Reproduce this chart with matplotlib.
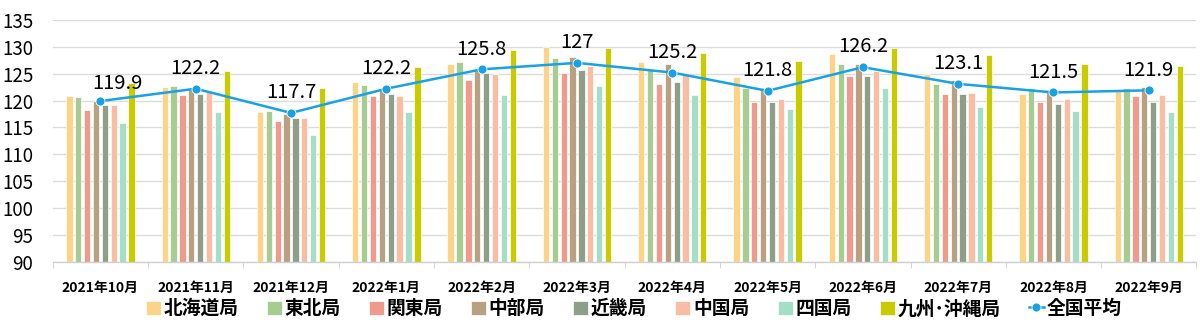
import matplotlib
matplotlib.use('Agg')
import matplotlib.pyplot as plt
import numpy as np

plt.rcParams['font.family'] = ['Noto Sans CJK JP', 'DejaVu Sans']

months = ['2021年10月', '2021年11月', '2021年12月', '2022年1月', '2022年2月', '2022年3月',
          '2022年4月', '2022年5月', '2022年6月', '2022年7月', '2022年8月', '2022年9月']

hokkaido = [120.8, 122.6, 117.8, 123.5, 126.7, 130.0, 127.1, 124.3, 128.6, 125.0, 121.3, 122.0]
tohoku = [120.6, 122.7, 118.1, 122.8, 127.1, 127.9, 125.7, 122.3, 126.8, 123.1, 122.3, 122.3]
kanto = [118.3, 121.0, 116.2, 120.8, 123.9, 125.1, 123.0, 119.8, 124.6, 121.3, 119.7, 120.8]
chubu = [120.0, 122.3, 117.5, 121.9, 125.6, 128.1, 126.8, 122.3, 126.8, 123.9, 122.0, 122.5]
kinki = [119.2, 121.2, 116.7, 121.3, 125.1, 125.6, 123.5, 119.8, 124.5, 121.2, 119.3, 119.7]
chugoku = [119.2, 121.6, 116.7, 120.8, 124.9, 126.5, 125.2, 120.3, 125.4, 121.4, 120.3, 121.1]
shikoku = [115.9, 117.8, 113.6, 117.8, 121.1, 122.7, 121.1, 118.5, 122.3, 118.8, 118.0, 117.9]
kyushu = [123.3, 125.5, 122.3, 126.3, 129.4, 129.8, 128.9, 127.3, 129.8, 128.5, 126.8, 126.4]
national = [119.9, 122.2, 117.7, 122.2, 125.8, 127.0, 125.2, 121.8, 126.2, 123.1, 121.5, 121.9]

region_names = ['北海道局', '東北局', '関東局', '中部局', '近畿局', '中国局', '四国局', '九州･沖縄局']
region_values = [hokkaido, tohoku, kanto, chubu, kinki, chugoku, shikoku, kyushu]
region_colors = ['#FDD487', '#A6CC92', '#EE9A8C', '#B8A182', '#8E9F89', '#F8BDA3', '#A4DEC6', '#CACA00']

fig = plt.figure(figsize=(12, 3.25), dpi=100)
ax = fig.add_axes([0.044, 0.194, 0.953, 0.745])

x = np.arange(len(months))
step = 0.093
width = 0.066
handles = []
for i, (name, vals, col) in enumerate(zip(region_names, region_values, region_colors)):
    b = ax.bar(x + (i - 3.5) * step, vals, width=width, color=col, edgecolor='white',
               linewidth=0.5, label=name, zorder=2)
    handles.append(b)

line, = ax.plot(x, national, color='#1BA1E2', linewidth=1.8, marker='o', markersize=6.5,
                markeredgecolor='white', markeredgewidth=0.6, label='全国平均', zorder=3)
handles.append(line)

for i, v in enumerate(national):
    dx = 12 if i == 0 else 0
    dy = 5 if i == 0 else 7
    ax.annotate(f'{v:g}', (x[i], v), xytext=(dx, dy), textcoords='offset points',
                ha='center', va='bottom', fontsize=14.5, color='black', zorder=4)

ax.set_xlim(-0.5, len(months) - 0.5)
ax.set_ylim(90, 135)
ax.set_yticks(np.arange(90, 136, 5))
ax.yaxis.grid(True, color='#dcdcdc', linewidth=1)
ax.set_axisbelow(True)

for s in ['top', 'right', 'left']:
    ax.spines[s].set_visible(False)
ax.spines['bottom'].set_color('#d0d0d0')
ax.spines['bottom'].set_linewidth(1)

ax.set_xticks(x)
ax.set_xticklabels(months, fontsize=10, fontweight='bold')
ax.set_xticks(np.arange(-0.5, len(months), 1), minor=True)
ax.tick_params(axis='x', which='major', length=0, pad=14)
ax.tick_params(axis='x', which='minor', length=4, color='#d0d0d0')
ax.tick_params(axis='y', length=0, pad=14, labelsize=13.5)

fig.legend(handles=handles, loc='center', bbox_to_anchor=(0.528, 0.05), ncol=9,
           frameon=False, handlelength=0.8, handleheight=0.8, handletextpad=0.15,
           columnspacing=1.5, prop={'weight': 'bold', 'size': 13.5})

fig.savefig('out.png', dpi=100)
